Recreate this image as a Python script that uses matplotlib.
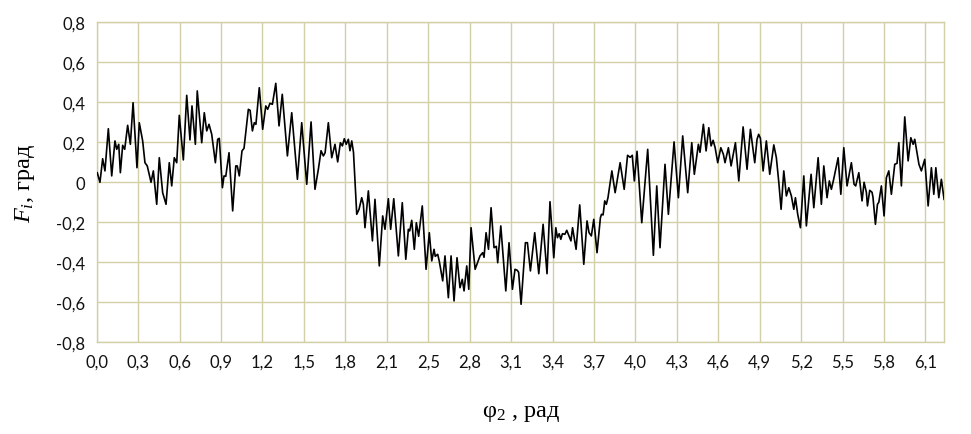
import matplotlib
matplotlib.use("Agg")
import matplotlib.pyplot as plt

# angle phi_2, rad
phi = [0.004, 0.024, 0.044, 0.061, 0.086, 0.111, 0.135, 0.148, 0.163, 0.175, 0.192, 0.207, 0.229, 0.249,
       0.269, 0.298, 0.315, 0.340, 0.357, 0.374, 0.402, 0.419, 0.444, 0.463, 0.488, 0.513, 0.537, 0.555,
       0.574, 0.592, 0.611, 0.641, 0.666, 0.690, 0.705, 0.730, 0.744, 0.777, 0.796,
       0.814, 0.831, 0.851, 0.878, 0.895, 0.907, 0.930, 0.942, 0.955, 0.979, 1.006, 1.029, 1.040, 1.055,
       1.075, 1.090, 1.122, 1.135, 1.152, 1.166, 1.178, 1.203, 1.228, 1.251, 1.265, 1.282, 1.300, 1.325,
       1.349, 1.373, 1.411, 1.443, 1.485, 1.517, 1.554, 1.586,
       1.615, 1.640, 1.660, 1.677, 1.690, 1.714, 1.739, 1.763, 1.783, 1.803, 1.818, 1.832, 1.846, 1.862,
       1.874, 1.887, 1.900, 1.924, 1.941, 1.961, 1.973, 1.985, 2.010, 2.040, 2.059, 2.091, 2.116, 2.133,
       2.158, 2.175, 2.198, 2.232, 2.261, 2.287, 2.306, 2.316, 2.331, 2.350, 2.365, 2.382,
       2.409, 2.437, 2.461, 2.479, 2.496, 2.505, 2.523, 2.535, 2.560, 2.577, 2.602, 2.622, 2.644, 2.666,
       2.688, 2.705, 2.718, 2.738, 2.753, 2.770, 2.800, 2.836, 2.856, 2.866, 2.881, 2.899, 2.918, 2.940,
       2.957, 2.967, 2.990, 3.027, 3.051, 3.076, 3.095, 3.112, 3.122, 3.140,
       3.172, 3.187, 3.209, 3.241, 3.271, 3.303, 3.332, 3.354, 3.382, 3.397, 3.409, 3.422, 3.434, 3.446,
       3.464, 3.478, 3.494, 3.509, 3.521, 3.547, 3.574, 3.604, 3.628, 3.643, 3.660, 3.678, 3.702, 3.727,
       3.735, 3.747, 3.759, 3.771, 3.783,
       3.812, 3.836, 3.873, 3.903, 3.928, 3.947, 3.963, 3.978, 3.998,
       4.033, 4.077, 4.119, 4.144, 4.168, 4.205, 4.230, 4.272, 4.304, 4.336, 4.373, 4.403, 4.422, 4.452,
       4.464, 4.489, 4.509, 4.529, 4.546, 4.561, 4.576, 4.595, 4.618, 4.637, 4.649, 4.674, 4.694,
       4.726, 4.751, 4.783, 4.812, 4.837, 4.869, 4.886, 4.898, 4.911, 4.931, 4.955, 4.980, 5.010, 5.029,
       5.047, 5.064, 5.084, 5.103, 5.121, 5.140, 5.158, 5.170, 5.187, 5.207, 5.232, 5.251, 5.286, 5.306,
       5.338, 5.362, 5.380, 5.404, 5.421, 5.436, 5.453, 5.486,
       5.506, 5.528, 5.552, 5.584, 5.604, 5.616, 5.639, 5.663, 5.678, 5.695, 5.703, 5.720, 5.737, 5.744,
       5.762, 5.777, 5.787, 5.806, 5.826, 5.843, 5.861, 5.880, 5.905, 5.922, 5.935, 5.954, 5.979, 6.004,
       6.024, 6.041, 6.053, 6.072, 6.084, 6.102, 6.127, 6.152, 6.176, 6.194, 6.209, 6.231, 6.250, 6.270]

# F_i, degrees
F = [0.048, 0.0, 0.118, 0.057, 0.268, 0.032, 0.207, 0.165, 0.19, 0.048, 0.185, 0.165, 0.285, 0.19,
     0.398, 0.073, 0.298, 0.207, 0.098, 0.082, 0.0, 0.057, -0.11, 0.123, -0.052, -0.11, 0.098, -0.018,
     0.123, 0.098, 0.335, 0.112, 0.435, 0.212, 0.382, 0.19, 0.457, 0.198, 0.348,
     0.257, 0.29, 0.24, 0.098, 0.215, 0.22, -0.027, 0.032, 0.03, 0.148, -0.143, 0.082, 0.082, 0.032,
     0.157, 0.17, 0.365, 0.36, 0.257, 0.298, 0.29, 0.473, 0.265, 0.382, 0.365, 0.395, 0.39, 0.495,
     0.282, 0.44, 0.132, 0.348, 0.015, 0.298, -0.01, 0.302,
     -0.035, 0.065, 0.158, 0.132, 0.148, 0.298, 0.123, 0.19, 0.102, 0.198, 0.182, 0.218, 0.19, 0.215,
     0.158, 0.207, 0.15, -0.16, -0.135, -0.077, -0.11, -0.227, -0.043, -0.293, -0.085, -0.418, -0.168, -0.235,
     -0.082, -0.235, -0.082, -0.368, -0.102, -0.385, -0.235, -0.243, -0.19, -0.335, -0.202, -0.27,
     -0.118, -0.435, -0.252, -0.393, -0.335, -0.37, -0.36, -0.395, -0.493, -0.368, -0.577, -0.368, -0.593, -0.377,
     -0.527, -0.485, -0.543, -0.418, -0.535, -0.227, -0.435, -0.368, -0.352, -0.375, -0.252, -0.335, -0.127, -0.327,
     -0.32, -0.402, -0.218, -0.543, -0.302, -0.535, -0.435, -0.44, -0.45, -0.61,
     -0.302, -0.302, -0.443, -0.252, -0.457, -0.21, -0.457, -0.097, -0.377, -0.227, -0.277, -0.257, -0.285, -0.257,
     -0.26, -0.24, -0.268, -0.293, -0.227, -0.335, -0.113, -0.41, -0.193, -0.252, -0.268, -0.185, -0.352, -0.177,
     -0.16, -0.163, -0.093, -0.11, -0.077,
     0.057, -0.052, 0.098, -0.035, 0.135, 0.125, 0.135, 0.007, 0.155,
     -0.202, 0.165, -0.365, -0.018, -0.327, 0.09, -0.16, 0.202, -0.077, 0.232, -0.052, 0.198, 0.04, 0.19,
     0.15, 0.29, 0.157, 0.273, 0.182, 0.21, 0.173, 0.098, 0.173, 0.14, 0.098, 0.173, 0.082,
     0.198, 0.007, 0.277, 0.065, 0.265, 0.098, 0.215, 0.24, 0.22, 0.057, 0.207, 0.04, 0.187, 0.123,
     0.0, -0.135, 0.057, -0.068, -0.027, -0.068, -0.135, -0.077, -0.16, -0.227, 0.032, -0.218, 0.04, -0.127,
     0.123, -0.11, 0.082, -0.077, 0.007, -0.035, 0.015, 0.123,
     -0.06, 0.173, -0.018, 0.098, -0.01, -0.018, 0.048, -0.093, 0.0, -0.05, -0.118, -0.04, -0.05, -0.075,
     -0.21, -0.11, -0.1, -0.018, -0.168, 0.023, 0.057, -0.06, 0.09, 0.095, 0.198, -0.018, 0.327, 0.107,
     0.223, 0.19, 0.215, 0.14, 0.09, 0.057, 0.115, -0.118, 0.073, -0.06, 0.073, -0.077, 0.015, -0.085]

x_tick_labels = ['0,0', '0,3', '0,6', '0,9', '1,2', '1,5', '1,8', '2,1', '2,5', '2,8', '3,1',
                 '3,4', '3,7', '4,0', '4,3', '4,6', '4,9', '5,2', '5,5', '5,8', '6,1']
x_step = 0.3066
y_ticks = [0.8, 0.6, 0.4, 0.2, 0.0, -0.2, -0.4, -0.6, -0.8]
y_tick_labels = ['0,8', '0,6', '0,4', '0,2', '0', '-0,2', '-0,4', '-0,6', '-0,8']

plt.rcParams['mathtext.fontset'] = 'custom'
plt.rcParams['mathtext.rm'] = 'Liberation Serif'
plt.rcParams['mathtext.it'] = 'Liberation Serif:italic'

fig = plt.figure(figsize=(9.71, 4.35), dpi=100)
ax = fig.add_axes([0.0996, 0.2108, 0.8731, 0.7356])
ax.set_facecolor('white')

grid_col = '#D3CFA6'
ax.plot(phi, F, color='black', lw=1.2, zorder=3)

ax.set_xlim(0, 20.46 * x_step)
ax.set_ylim(-0.8, 0.8)
ax.set_xticks([k * x_step for k in range(len(x_tick_labels))])
ax.set_xticklabels(x_tick_labels)
ax.set_yticks(y_ticks)
ax.set_yticklabels(y_tick_labels)
ax.grid(True, color=grid_col, lw=1.0, zorder=0)
for s in ax.spines.values():
    s.set_color(grid_col)
    s.set_linewidth(1.0)
ax.tick_params(length=0, labelsize=12, pad=8)
for lab in ax.get_xticklabels() + ax.get_yticklabels():
    lab.set_fontfamily('Lato')
    lab.set_color('#111111')

fig.text(0.537, 0.042, r'φ$_{\mathrm{2}}$ , рад', family='Liberation Serif', fontsize=17.5,
         ha='center', va='baseline')
fig.text(0.026, 0.578, r'$F_i$, град', family='Liberation Serif', fontsize=17.5,
         ha='center', va='center', rotation=90)

fig.savefig('out.png', dpi=100)
